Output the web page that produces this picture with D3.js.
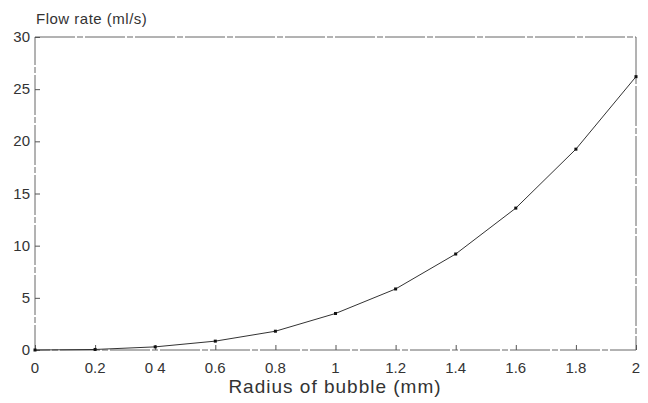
<!DOCTYPE html>
<html>
<head>
<meta charset="utf-8">
<script src="https://cdn.jsdelivr.net/npm/d3@7"></script>
<style>
  body { margin: 0; background: #fff; }
  text { font-family: "Liberation Sans", Arial, sans-serif; fill: #333; }
</style>
</head>
<body>
<svg width="648" height="403"></svg>
<script>
// data
var radius = [0, 0.2, 0.4, 0.6, 0.8, 1, 1.2, 1.4, 1.6, 1.8, 2];
var flow = [0, 0.05, 0.3, 0.85, 1.8, 3.5, 5.85, 9.2, 13.6, 19.25, 26.2];
var xTicks = [0, 0.2, 0.4, 0.6, 0.8, 1, 1.2, 1.4, 1.6, 1.8, 2];
var xTickLabels = ["0", "0.2", "0 4", "0.6", "0.8", "1", "1.2", "1.4", "1.6", "1.8", "2"];
var yTicks = [0, 5, 10, 15, 20, 25, 30];

var svg = d3.select("svg");
var pLeft = 35, pRight = 636, pTop = 37, pBottom = 350;

var x = d3.scaleLinear().domain([0, 2]).range([pLeft, pRight]);
var y = d3.scaleLinear().domain([0, 30]).range([pBottom, pTop]);

// frame
svg.append("rect")
    .attr("x", pLeft)
    .attr("y", pTop)
    .attr("width", pRight - pLeft)
    .attr("height", pBottom - pTop)
    .attr("fill", "none")
    .attr("stroke", "#666")
    .attr("stroke-width", 1)
    .attr("stroke-dasharray", "40,2,6,2");

// y axis ticks (inward)
var yAxis = d3.axisRight(y)
    .tickValues(yTicks)
    .tickSize(5)
    .tickFormat("");
var gy = svg.append("g")
    .attr("transform", "translate(" + pLeft + ",0)")
    .call(yAxis);
gy.select(".domain").remove();
gy.selectAll("line").attr("stroke", "#555");

svg.append("g").selectAll("text")
    .data(yTicks)
    .enter()
    .append("text")
    .attr("x", pLeft - 5)
    .attr("y", function (d) { return y(d) + 5; })
    .attr("text-anchor", "end")
    .style("font-size", "15px")
    .text(function (d) { return d; });

// x axis ticks (upward)
var xAxis = d3.axisTop(x)
    .tickValues(xTicks)
    .tickSize(5)
    .tickFormat("");
var gx = svg.append("g")
    .attr("transform", "translate(0," + pBottom + ")")
    .call(xAxis);
gx.select(".domain").remove();
gx.selectAll("line").attr("stroke", "#555");

svg.append("g").selectAll("text")
    .data(xTicks)
    .enter()
    .append("text")
    .attr("x", function (d) { return x(d); })
    .attr("y", pBottom + 23)
    .attr("text-anchor", "middle")
    .style("font-size", "15px")
    .text(function (d, i) { return xTickLabels[i]; });

// titles
svg.append("text")
    .attr("x", 36)
    .attr("y", 24)
    .style("font-size", "15px")
    .style("letter-spacing", "0.5px")
    .text("Flow rate (ml/s)");

svg.append("text")
    .attr("x", 335)
    .attr("y", 393)
    .attr("text-anchor", "middle")
    .style("font-size", "19px")
    .style("letter-spacing", "1px")
    .text("Radius of bubble (mm)");

// curve
var pts = radius.map(function (r, i) { return [r, flow[i]]; });
svg.append("path")
    .datum(pts)
    .attr("fill", "none")
    .attr("stroke", "#333")
    .attr("stroke-width", 1)
    .attr("d", d3.line()
        .x(function (d) { return x(d[0]); })
        .y(function (d) { return y(d[1]); }));

svg.append("g").selectAll("rect")
    .data(pts)
    .enter()
    .append("rect")
    .attr("x", function (d) { return x(d[0]) - 1.5; })
    .attr("y", function (d) { return y(d[1]) - 1.5; })
    .attr("width", 3)
    .attr("height", 3)
    .attr("fill", "#111");
</script>
</body>
</html>
